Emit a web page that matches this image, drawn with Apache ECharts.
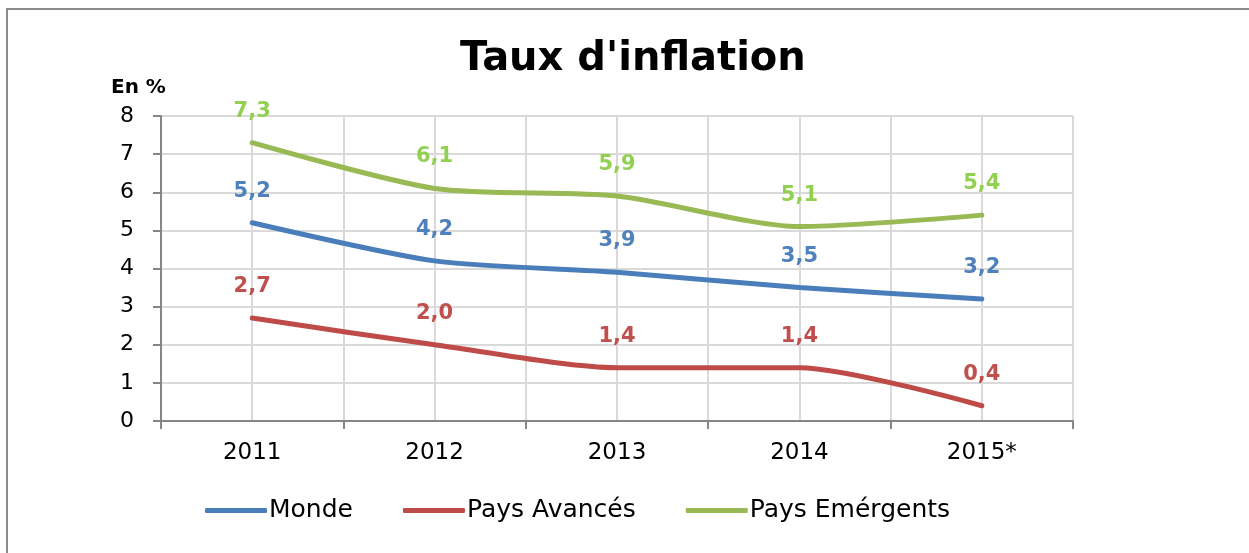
<!DOCTYPE html>
<html>
<head>
<meta charset="utf-8">
<script src="https://cdn.jsdelivr.net/npm/echarts@6/dist/echarts.min.js"></script>
<style>
  html, body { margin: 0; padding: 0; background: #fff; }
  #main { width: 1249px; height: 553px; }
</style>
</head>
<body>
<div id="main"></div>
<script>
// données du graphique
var years = ['2011', '2012', '2013', '2014', '2015*'];
var monde = [5.2, 4.2, 3.9, 3.5, 3.2];
var avances = [2.7, 2.0, 1.4, 1.4, 0.4];
var emergents = [7.3, 6.1, 5.9, 5.1, 5.4];
var yTicks = [0, 1, 2, 3, 4, 5, 6, 7, 8];

var chart = echarts.init(document.getElementById('main'));

function fmt(p) {
  var v = Array.isArray(p.value) ? p.value[1] : p.value;
  return Number(v).toFixed(1).replace('.', ',');
}

function mkSeries(name, data, lineColor, labelColor) {
  return {
    name: name,
    type: 'line',
    xAxisIndex: 0,
    yAxisIndex: 0,
    data: data,
    smooth: 0.25,
    symbol: 'circle',
    symbolSize: 2,
    showSymbol: true,
    lineStyle: { color: lineColor, width: 5, cap: 'round' },
    itemStyle: { color: lineColor },
    label: {
      show: true,
      position: 'top',
      distance: 20,
      formatter: fmt,
      color: labelColor,
      fontFamily: 'DejaVu Sans',
      fontWeight: 'bold',
      fontSize: 21
    },
    labelLayout: { hideOverlap: false }
  };
}

var option = {
  animation: false,
  title: {
    text: "Taux d'inflation",
    left: 455,
    top: 35,
    textStyle: {
      fontFamily: 'DejaVu Sans',
      fontWeight: 'bold',
      fontSize: 40,
      color: '#000'
    }
  },
  graphic: [
    {
      type: 'rect',
      shape: { x: 7, y: 9, width: 1270, height: 580 },
      style: { fill: 'none', stroke: '#8c8c8c', lineWidth: 2 }
    },
    {
      type: 'text',
      left: 111,
      top: 78,
      style: {
        text: 'En %',
        font: 'bold 20px "DejaVu Sans"',
        fill: '#000'
      }
    }
  ],
  legend: {
    bottom: 25,
    left: 200,
    icon: 'roundRect',
    itemWidth: 62,
    itemHeight: 5,
    itemGap: 50,
    data: ['Monde', 'Pays Avancés', 'Pays Emérgents'],
    textStyle: {
      fontFamily: 'DejaVu Sans',
      fontSize: 25,
      color: '#000',
      padding: [0, 0, 0, -3]
    }
  },
  grid: {
    left: 161,
    right: 176,
    top: 116,
    bottom: 132
  },
  xAxis: [
    {
      type: 'category',
      data: years,
      boundaryGap: true,
      axisLine: { lineStyle: { color: '#868686', width: 2 } },
      axisTick: { show: true, length: 8, lineStyle: { color: '#868686', width: 2 } },
      axisLabel: {
        color: '#000',
        fontFamily: 'DejaVu Sans',
        fontSize: 23,
        margin: 21
      },
      splitLine: { show: false }
    },
    {
      // grille verticale à chaque demi-catégorie
      type: 'value',
      min: 0,
      max: 5,
      interval: 0.5,
      position: 'bottom',
      axisLine: { show: false },
      axisTick: { show: false },
      axisLabel: { show: false },
      splitLine: { show: true, lineStyle: { color: '#d9d9d9', width: 2 } }
    }
  ],
  yAxis: {
    type: 'value',
    min: yTicks[0],
    max: yTicks[yTicks.length - 1],
    interval: 1,
    axisLine: { show: true, lineStyle: { color: '#868686', width: 2 } },
    axisTick: { show: true, length: 8, lineStyle: { color: '#868686', width: 2 } },
    axisLabel: {
      color: '#000',
      fontFamily: 'DejaVu Sans',
      fontSize: 22,
      margin: 27
    },
    splitLine: { show: true, lineStyle: { color: '#d9d9d9', width: 2 } }
  },
  series: [
    mkSeries('Monde', monde, '#4a7ebb', '#4f81bd'),
    mkSeries('Pays Avancés', avances, '#be4b48', '#c0504d'),
    mkSeries('Pays Emérgents', emergents, '#98b954', '#92d050')
  ]
};

chart.setOption(option);
</script>
</body>
</html>
